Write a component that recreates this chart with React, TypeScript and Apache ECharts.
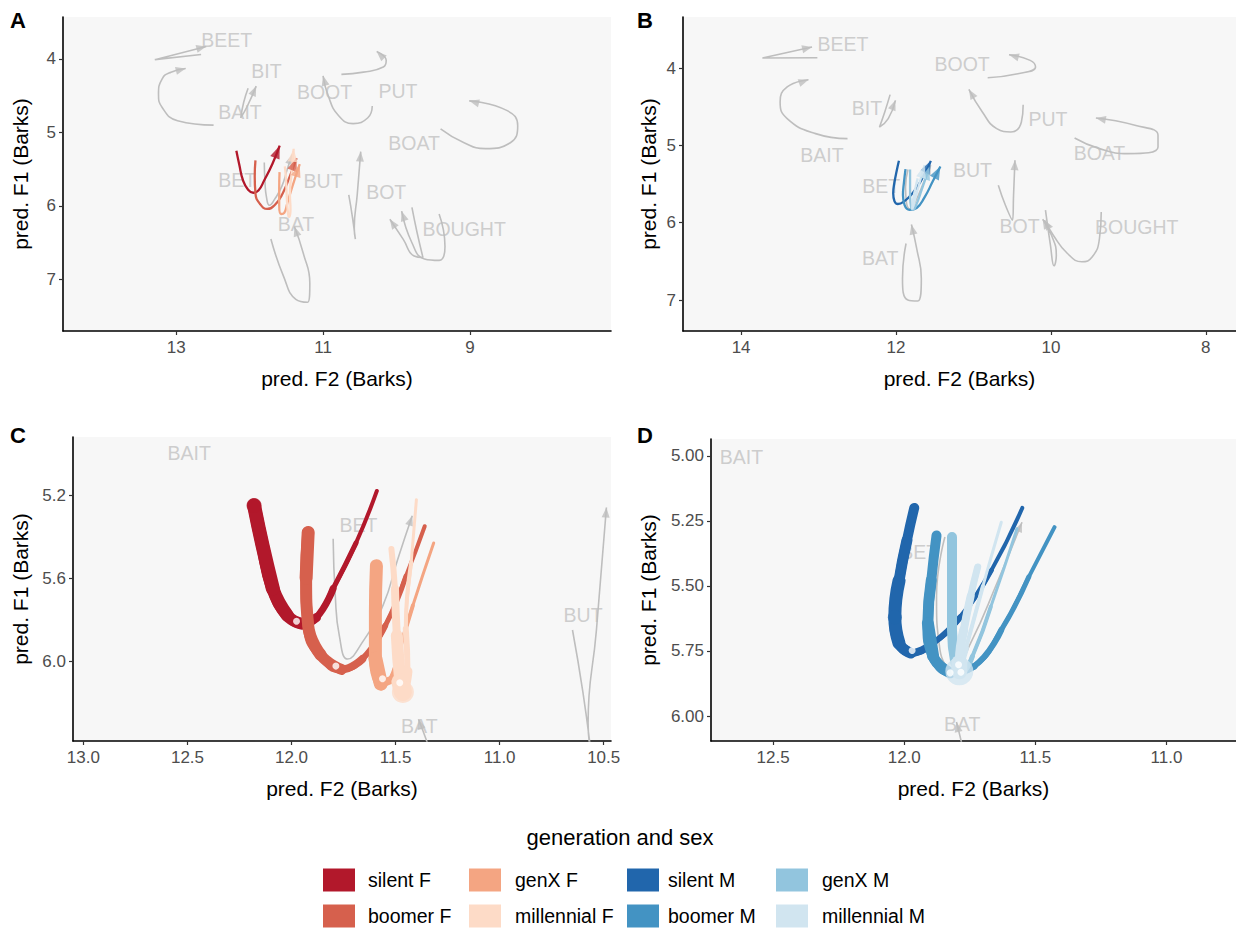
import React, { useEffect, useRef } from "react";
import * as echarts from "echarts";

type P = [number, number];

// ---------- groups ----------
const groups = ["silent F", "boomer F", "genX F", "millennial F", "silent M", "boomer M", "genX M", "millennial M"];
const groupColors = ["#b2182b", "#d6604d", "#f4a582", "#fddbc7", "#2166ac", "#4393c3", "#92c5de", "#d1e5f0"];

// ---------- female (panels A, C): gray vowel trajectories [F2, F1] ----------
const beetF: P[] = [[12.66, 3.94], [13.29, 4.01], [12.59, 3.83]];
const baitF: P[] = [[12.49, 4.9], [12.98, 4.84], [13.19, 4.66], [13.24, 4.48], [13.19, 4.27], [13.07, 4.18], [12.87, 4.13]];
const bitF: P[] = [[12.02, 4.4], [12.08, 4.59], [12.12, 4.8], [12.03, 4.64], [11.91, 4.37]];
const betF: P[] = [[11.8, 5.41], [11.79, 5.68], [11.77, 5.88], [11.73, 5.99], [11.66, 5.91], [11.56, 5.73], [11.49, 5.51], [11.42, 5.3]];
const batF: P[] = [[11.71, 6.45], [11.54, 6.95], [11.37, 7.27], [11.21, 7.31], [11.18, 7.05], [11.27, 6.64], [11.39, 6.28]];
const butF: P[] = [[10.65, 5.85], [10.6, 6.15], [10.56, 6.45], [10.575, 6.3], [10.535, 5.85], [10.487, 5.26]];
const botF: P[] = [[9.79, 6.02], [9.72, 6.36], [9.64, 6.7], [9.76, 6.68], [9.91, 6.45], [10.09, 6.18]];
const boughtF: P[] = [[9.42, 6.11], [9.34, 6.55], [9.42, 6.74], [9.62, 6.72], [9.79, 6.5], [9.93, 6.07]];
const bootF: P[] = [[10.33, 4.64], [10.39, 4.8], [10.59, 4.88], [10.79, 4.77], [10.93, 4.5], [11.0, 4.23]];
const putF: P[] = [[10.75, 4.21], [10.45, 4.18], [10.18, 4.11], [10.14, 4.02], [10.27, 3.9]];
const boatF: P[] = [[9.4, 4.95], [9.08, 5.14], [8.79, 5.22], [8.45, 5.14], [8.35, 4.91], [8.5, 4.7], [9.01, 4.57]];

// ---------- male (panels B, D): gray vowel trajectories ----------
const beetM: P[] = [[13.015, 3.867], [13.725, 3.871], [13.084, 3.729]];
const baitM: P[] = [[12.626, 4.913], [13.038, 4.848], [13.405, 4.654], [13.496, 4.439], [13.405, 4.245], [13.13, 4.151]];
const bitM: P[] = [[12.076, 4.344], [12.145, 4.568], [12.213, 4.762], [12.1, 4.654], [12.007, 4.418]];
const betM: P[] = [[11.845, 5.312], [11.877, 5.541], [11.864, 5.745], [11.812, 5.822], [11.747, 5.72], [11.642, 5.478], [11.551, 5.255]];
const batM: P[] = [[11.87, 6.269], [11.916, 6.72], [11.847, 7.0], [11.719, 7.013], [11.673, 6.72], [11.733, 6.333], [11.801, 6.023]];
const butM: P[] = [[10.679, 5.515], [10.587, 5.774], [10.496, 5.967], [10.482, 5.644], [10.464, 5.192]];
const botM: P[] = [[10.07, 5.838], [10.006, 6.29], [9.96, 6.557], [9.93, 6.419], [9.992, 6.161], [10.106, 5.954]];
const boughtM: P[] = [[9.35, 5.86], [9.373, 6.204], [9.465, 6.44], [9.602, 6.505], [9.786, 6.398], [9.969, 6.161], [10.083, 5.967]];
const bootM: P[] = [[10.816, 4.125], [10.427, 4.073], [10.198, 3.987], [10.267, 3.901], [10.541, 3.828]];
const putM: P[] = [[10.358, 4.474], [10.381, 4.697], [10.518, 4.827], [10.7, 4.783], [10.885, 4.568], [11.059, 4.276]];
const boatM: P[] = [[9.694, 4.904], [9.373, 5.042], [9.007, 5.106], [8.617, 5.02], [8.617, 4.87], [8.915, 4.74], [9.419, 4.646]];

// ---------- group trajectories ----------
const silentF: P[] = [[12.18, 5.25], [12.14, 5.44], [12.09, 5.65], [12.02, 5.78], [11.95, 5.82], [11.88, 5.79], [11.8, 5.65], [11.69, 5.43], [11.59, 5.18]];
const boomerF: P[] = [[11.92, 5.38], [11.93, 5.6], [11.92, 5.83], [11.86, 5.97], [11.76, 6.04], [11.66, 5.99], [11.55, 5.83], [11.45, 5.59], [11.36, 5.35]];
const genXF: P[] = [[11.592, 5.54], [11.597, 5.764], [11.597, 5.989], [11.571, 6.109], [11.528, 6.093], [11.485, 5.957], [11.417, 5.732], [11.317, 5.431]];
const millennialF: P[] = [[11.52, 5.46], [11.503, 5.652], [11.494, 5.877], [11.477, 6.101], [11.465, 6.149], [11.443, 6.05], [11.451, 5.844], [11.425, 5.524], [11.4, 5.222]];
const silentM: P[] = [[11.962, 5.2], [11.99, 5.325], [12.02, 5.48], [12.036, 5.62], [12.02, 5.72], [11.975, 5.758], [11.89, 5.72], [11.786, 5.62], [11.668, 5.44], [11.55, 5.2]];
const boomerM: P[] = [[11.877, 5.306], [11.897, 5.478], [11.91, 5.643], [11.89, 5.77], [11.825, 5.834], [11.734, 5.809], [11.63, 5.669], [11.525, 5.465], [11.427, 5.274]];
const genXM: P[] = [[11.818, 5.312], [11.818, 5.478], [11.818, 5.669], [11.805, 5.796], [11.78, 5.83], [11.74, 5.77], [11.67, 5.58], [11.57, 5.28]];
const millennialM: P[] = [[11.72, 5.427], [11.747, 5.54], [11.773, 5.669], [11.79, 5.796], [11.79, 5.828], [11.765, 5.74], [11.7, 5.5], [11.63, 5.255]];

// line thickness along each trajectory (zoomed panels)
const taperSilentF = [15, 14, 14, 13, 12, 9, 7, 5, 4];
const taperBoomerF = [13, 13, 12, 12, 11, 8, 6, 5, 4];
const taperGenXF = [13, 13, 14, 14, 8, 5, 4, 3];
const taperMillennialF = [6, 8, 12, 18, 22, 10, 6, 4, 3];
const taperSilentM = [10, 11, 13, 14, 13, 11, 8, 6, 5, 4];
const taperBoomerM = [10, 11, 12, 12, 11, 7, 6, 5, 4];
const taperGenXM = [10, 10, 10, 10, 8, 5, 4, 3];
const taperMillennialM = [7, 8, 9, 16, 28, 6, 4, 3];

// midpoint markers
const dotsF: P[] = [[11.976, 5.808], [11.787, 6.024], [11.563, 6.085], [11.48, 6.104]];
const dotsM: P[] = [[11.97, 5.748], [11.825, 5.834], [11.793, 5.803], [11.784, 5.832]];

// ---------- vowel labels per panel ----------
const labelsA: [string, number, number][] = [
  ["BEET", 12.31, 3.74], ["BIT", 11.77, 4.16], ["BAIT", 12.13, 4.72], ["BOOT", 10.98, 4.445], ["PUT", 9.98, 4.43],
  ["BOAT", 9.76, 5.145], ["BET", 12.17, 5.64], ["BUT", 11.0, 5.66], ["BOT", 10.14, 5.81], ["BAT", 11.37, 6.25], ["BOUGHT", 9.08, 6.31],
];
const labelsB: [string, number, number][] = [
  ["BEET", 12.685, 3.686], ["BOOT", 11.146, 3.944], ["BIT", 12.374, 4.517], ["PUT", 10.037, 4.654], ["BAIT", 12.956, 5.119],
  ["BOAT", 9.373, 5.093], ["BUT", 11.013, 5.322], ["BET", 12.19, 5.524], ["BOT", 10.404, 6.04], ["BOUGHT", 8.892, 6.053], ["BAT", 12.204, 6.454],
];
const labelsC: [string, number, number][] = [["BAIT", 12.492, 4.995], ["BET", 11.678, 5.343], ["BUT", 10.599, 5.776], ["BAT", 11.386, 6.314]];
const labelsD: [string, number, number][] = [["BAIT", 12.621, 5.006], ["BET", 11.943, 5.369], ["BAT", 11.779, 6.032]];

// ---------- axis ticks ----------
const xTicksA = [9, 11, 13];
const yTicksA = [4, 5, 6, 7];
const xTicksB = [8, 10, 12, 14];
const yTicksB = [4, 5, 6, 7];
const xTicksC = [10.5, 11, 11.5, 12, 12.5, 13];
const yTicksC = [5.2, 5.6, 6.0];
const xTicksD = [11, 11.5, 12, 12.5];
const yTicksD = [5, 5.25, 5.5, 5.75, 6];

const grayTrajF = [beetF, baitF, bitF, betF, batF, butF, botF, boughtF, bootF, putF, boatF];
const grayTrajM = [beetM, baitM, bitM, betM, batM, butM, botM, boughtM, bootM, putM, boatM];
const groupTrajF = [silentF, boomerF, genXF, millennialF];
const groupTrajM = [silentM, boomerM, genXM, millennialM];
const tapersF = [taperSilentF, taperBoomerF, taperGenXF, taperMillennialF];
const tapersM = [taperSilentM, taperBoomerM, taperGenXM, taperMillennialM];

const GRAY = "#bebebe";
const LABEL_GRAY = "#c2c2c2";
const FONT = "'Liberation Sans', Arial, Helvetica, sans-serif";

const panels = [
  { letter: "A", lx: 18, ly: 20, left: 63, top: 17, width: 548, height: 314, xMin: 7.08, xMax: 14.54, yMin: 3.43, yMax: 7.7, xt: xTicksA, yt: yTicksA, xd: 0, yd: 0, sex: "F", zoom: false, labels: labelsA, yGap: 32 },
  { letter: "B", lx: 645, ly: 20, left: 683, top: 17, width: 553, height: 314, xMin: 7.61, xMax: 14.75, yMin: 3.34, yMax: 7.4, xt: xTicksB, yt: yTicksB, xd: 0, yd: 0, sex: "M", zoom: false, labels: labelsB, yGap: 24 },
  { letter: "C", lx: 18, ly: 435, left: 73, top: 437, width: 538, height: 304, xMin: 10.465, xMax: 13.05, yMin: 4.92, yMax: 6.385, xt: xTicksC, yt: yTicksC, xd: 1, yd: 1, sex: "F", zoom: true, labels: labelsC, yGap: 42 },
  { letter: "D", lx: 645, ly: 435, left: 711, top: 439, width: 525, height: 302, xMin: 10.735, xMax: 12.737, yMin: 4.935, yMax: 6.096, xt: xTicksD, yt: yTicksD, xd: 1, yd: 2, sex: "M", zoom: true, labels: labelsD, yGap: 52 },
];

function arrowItem(pts: P[], kx: number, ky: number, h: number) {
  const n = pts.length;
  const [x1, y1] = pts[n - 2];
  const [x2, y2] = pts[n - 1];
  const sx = -(x2 - x1) * kx;
  const sy = (y2 - y1) * ky;
  const len = Math.hypot(sx, sy) || 1;
  const ux = sx / len;
  const uy = sy / len;
  const rot = (Math.atan2(-ux, -uy) * 180) / Math.PI;
  return { value: [x2, y2], symbolRotate: rot, symbolOffset: [-ux * h / 2, -uy * h / 2] };
}

function bands(ws: number[]) {
  const levels = Array.from(new Set(ws)).sort((a, b) => a - b);
  const out: { from: number; to: number; w: number }[] = [];
  levels.forEach((L) => {
    let i = 0;
    while (i < ws.length) {
      if (ws[i] >= L) {
        let j = i;
        while (j + 1 < ws.length && ws[j + 1] >= L) j++;
        out.push({ from: i, to: j, w: L });
        i = j + 1;
      } else i++;
    }
  });
  return out;
}

function buildOption() {
  const series: any[] = [];
  panels.forEach((p, i) => {
    const kx = p.width / (p.xMax - p.xMin);
    const ky = p.height / (p.yMax - p.yMin);
    const isF = p.sex === "F";
    const gray = isF ? grayTrajF : grayTrajM;
    const cols = isF ? groupTrajF : groupTrajM;
    const tapers = isF ? tapersF : tapersM;
    const colors = groupColors.slice(isF ? 0 : 4, isF ? 4 : 8);
    const base = { xAxisIndex: i, yAxisIndex: i, silent: true };

    series.push({
      ...base, type: "scatter", z: 1, symbolSize: 1, itemStyle: { color: "rgba(0,0,0,0)" },
      label: { show: true, position: "inside", formatter: "{b}", color: LABEL_GRAY, fontSize: 19.5, fontFamily: FONT },
      data: p.labels.map(([n, x, y]) => ({ name: n, value: [x, y] })),
    });
    gray.forEach((t) =>
      series.push({ ...base, type: "line", z: 2, smooth: true, symbol: "none", lineStyle: { color: GRAY, width: 1.6 }, data: t })
    );
    series.push({
      ...base, type: "scatter", z: 2, symbol: "triangle", symbolSize: [8, 10], itemStyle: { color: GRAY },
      data: gray.map((t) => arrowItem(t, kx, ky, 10)),
    });

    if (!p.zoom) {
      cols.forEach((c, k) =>
        series.push({ ...base, type: "line", z: 3, smooth: true, symbol: "none", lineStyle: { color: colors[k], width: 2.3 }, data: c })
      );
      series.push({
        ...base, type: "scatter", z: 4, symbol: "triangle", symbolSize: [10, 13],
        data: cols.map((c, k) => ({ ...arrowItem(c, kx, ky, 13), itemStyle: { color: colors[k] } })),
      });
    } else {
      cols.forEach((c, k) => {
        bands(tapers[k]).forEach((b) => {
          if (b.to > b.from) {
            series.push({
              ...base, type: "line", z: 3, smooth: true, symbol: "none",
              lineStyle: { color: colors[k], width: b.w, cap: "round", join: "round" },
              data: c.slice(b.from, b.to + 1),
            });
          } else {
            series.push({
              ...base, type: "scatter", z: 3, symbol: "circle", symbolSize: b.w, itemStyle: { color: colors[k] },
              data: [c[b.from]],
            });
          }
        });
      });
      series.push({
        ...base, type: "scatter", z: 5, symbol: "circle", symbolSize: 7, itemStyle: { color: "#ffffff" },
        data: isF ? dotsF : dotsM,
      });
    }
  });

  const graphic: any[] = [];
  panels.forEach((p) =>
    graphic.push({
      type: "text", x: p.lx, y: p.ly, silent: true,
      style: { text: p.letter, font: `bold 22px ${FONT}`, fill: "#000", textAlign: "center", textVerticalAlign: "middle" },
    })
  );
  graphic.push({
    type: "text", x: 620, y: 837, silent: true,
    style: { text: "generation and sex", font: `22px ${FONT}`, fill: "#000", textAlign: "center", textVerticalAlign: "middle" },
  });
  const colX = [323, 469, 627, 776];
  const labX = [368, 515, 668, 822];
  groups.forEach((g, idx) => {
    const col = Math.floor(idx / 2);
    const row = idx % 2;
    const cy = row === 0 ? 880 : 916;
    graphic.push({ type: "rect", silent: true, shape: { x: colX[col], y: cy - 11.5, width: 32, height: 23 }, style: { fill: groupColors[idx] } });
    graphic.push({
      type: "text", x: labX[col], y: cy, silent: true,
      style: { text: g, font: `19.5px ${FONT}`, fill: "#000", textAlign: "left", textVerticalAlign: "middle" },
    });
  });

  return {
    animation: false,
    backgroundColor: "#ffffff",
    textStyle: { fontFamily: FONT },
    grid: panels.map((p) => ({
      left: p.left, top: p.top, width: p.width, height: p.height, show: true,
      backgroundColor: "#f7f7f7", borderWidth: 0, containLabel: false, outerBoundsMode: "none",
    })),
    xAxis: panels.map((p, i) => ({
      gridIndex: i, type: "value", inverse: true, min: p.xMin, max: p.xMax,
      axisLine: { show: true, onZero: false, lineStyle: { color: "#000", width: 1.6 } },
      axisTick: { show: true, customValues: p.xt, length: 4, lineStyle: { color: "#333", width: 1.2 } },
      axisLabel: { customValues: p.xt, formatter: (v: number) => v.toFixed(p.xd), color: "#4d4d4d", fontSize: 17, margin: 8, fontFamily: FONT },
      splitLine: { show: false },
      name: "pred. F2 (Barks)", nameLocation: "middle", nameGap: 37,
      nameTextStyle: { fontSize: 21, color: "#000", fontFamily: FONT },
    })),
    yAxis: panels.map((p, i) => ({
      gridIndex: i, type: "value", inverse: true, min: p.yMin, max: p.yMax,
      axisLine: { show: true, onZero: false, lineStyle: { color: "#000", width: 1.6 } },
      axisTick: { show: true, customValues: p.yt, length: 4, lineStyle: { color: "#333", width: 1.2 } },
      axisLabel: { customValues: p.yt, formatter: (v: number) => v.toFixed(p.yd), color: "#4d4d4d", fontSize: 17, margin: 7, fontFamily: FONT },
      splitLine: { show: false },
      name: "pred. F1 (Barks)", nameLocation: "middle", nameGap: p.yGap,
      nameTextStyle: { fontSize: 21, color: "#000", fontFamily: FONT },
    })),
    series,
    graphic,
  };
}

export default function App() {
  const ref = useRef<HTMLDivElement>(null);
  useEffect(() => {
    if (!ref.current) return;
    const chart = echarts.init(ref.current, undefined, { renderer: "svg" });
    chart.setOption(buildOption() as any);
    return () => chart.dispose();
  }, []);
  return <div ref={ref} style={{ position: "fixed", left: 0, top: 0, width: 1236, height: 930, background: "#fff" }} />;
}
